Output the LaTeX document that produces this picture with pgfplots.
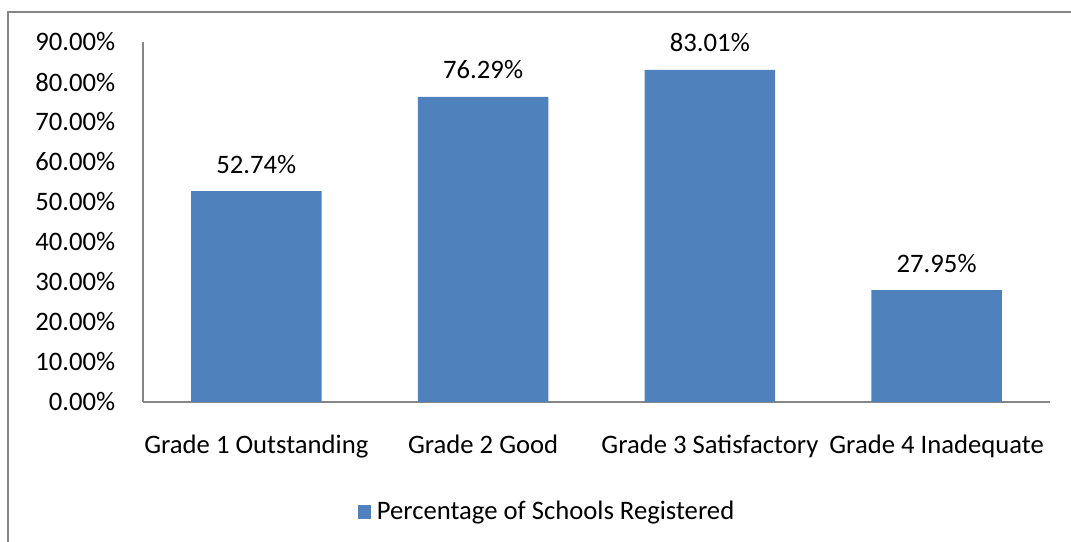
\documentclass[border=0pt]{standalone}
\usepackage{pgfplots}
\pgfplotsset{compat=1.18}
\usepackage{fontspec}
\setmainfont{Carlito}
\definecolor{barblue}{HTML}{4F81BD}
\definecolor{axgray}{HTML}{868686}
\begin{document}
\fontsize{20}{24}\selectfont
\begin{tikzpicture}[x=0.75pt,y=0.75pt]
\useasboundingbox (0,0) rectangle (1071,542);
\draw[axgray, line width=1.1pt] (8,0) -- (8,530) -- (1071,530);
\begin{axis}[
  at={(107.25pt,105pt)}, anchor=south west,
  scale only axis, width=680.25pt, height=270pt,
  xmin=-0.5, xmax=3.5, ymin=0, ymax=90,
  axis x line*=bottom, axis y line*=left,
  axis line style={axgray, line width=1.1pt},
  major tick length=0pt,
  xtick={0,1,2,3},
  xticklabels={Grade 1 Outstanding, Grade 2 Good, Grade 3 Satisfactory, Grade 4 Inadequate},
  ytick={0,10,...,90},
  yticklabel={\pgfmathprintnumber[fixed,fixed zerofill,precision=2]{\tick}\%},
  /pgf/number format/assume math mode=true,
  xticklabel style={yshift=-17.5pt},
  yticklabel style={xshift=-14pt},
  ybar, bar width=98pt,
  nodes near coords={\pgfmathprintnumber[fixed,fixed zerofill,precision=2]{\pgfplotspointmeta}\%},
  nodes near coords style={yshift=6.5pt},
  legend style={at={(0.4476,-0.3056)}, anchor=center, draw=none, fill=none, font=\fontsize{20}{24}\selectfont,
    nodes={inner xsep=4pt}},
  legend cell align=left,
  legend image code/.code={\fill[barblue] (0pt,-4.9pt) rectangle (9.8pt,4.9pt);},
  clip=false,
]
\addplot[fill=barblue, draw=none] coordinates {(0,52.74) (1,76.29) (2,83.01) (3,27.95)};
\addlegendentry{Percentage of Schools Registered}
\end{axis}
\end{tikzpicture}
\end{document}
